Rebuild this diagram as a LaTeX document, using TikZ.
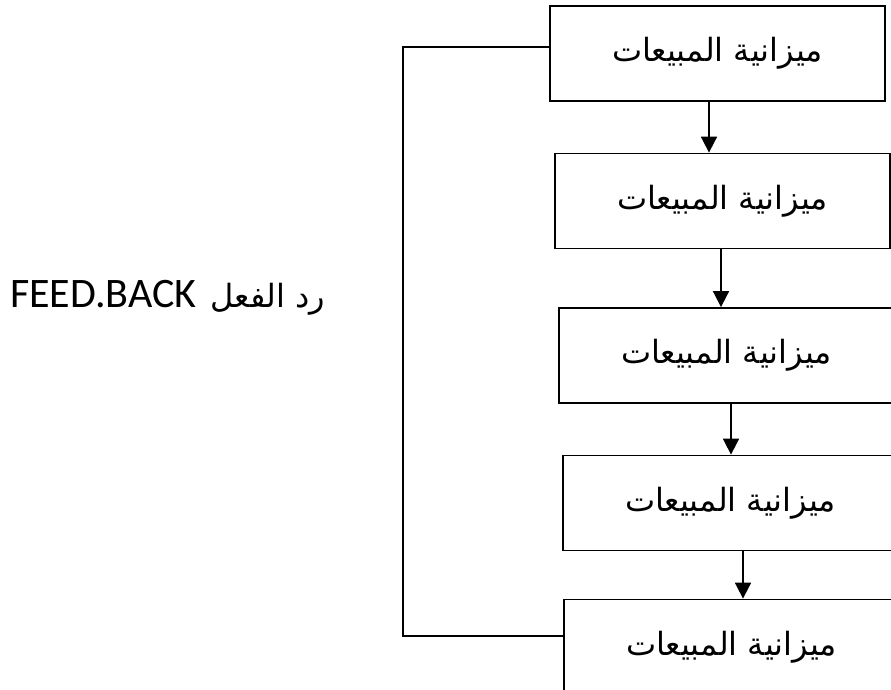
\documentclass[tikz,border=0pt]{standalone}
\usepackage{fontspec}
\usetikzlibrary{arrows.meta}
\TeXXeTstate=1
\newfontfamily\arabicfont[Script=Arabic]{DejaVu Sans}
\newfontfamily\latinfont{Carlito}
\newcommand{\artext}[1]{{\arabicfont\fontsize{32}{38}\selectfont\beginR #1\endR}}
\begin{document}
\begin{tikzpicture}[x=1pt,y=1pt,
  stagebox/.style={draw, line width=1.8pt, minimum width=335pt, minimum height=95pt,
                   inner sep=0pt, anchor=center},
  flow/.style={line width=1.8pt, -{Triangle[length=16pt,width=16pt]}},
  loopline/.style={line width=1.8pt}]
  \clip (0,0) rectangle (891,689);
  \fill[white] (0,0) rectangle (891,689);

  % budget stages
  \node[stagebox] (b1) at (717.5,635.5) {\artext{ميزانية المبيعات}};
  \node[stagebox] (b2) at (722.5,488)   {\artext{ميزانية المبيعات}};
  \node[stagebox] (b3) at (726.5,333.5) {\artext{ميزانية المبيعات}};
  \node[stagebox] (b4) at (730.5,186)   {\artext{ميزانية المبيعات}};
  \node[stagebox] (b5) at (731.5,42)    {\artext{ميزانية المبيعات}};

  % downward flow between stages
  \draw[flow] ([xshift=-8.5pt]b1.south) -- ([xshift=-13.5pt]b2.north);
  \draw[flow] ([xshift=-1.5pt]b2.south) -- ([xshift=-5.5pt]b3.north);
  \draw[flow] ([xshift=4.5pt]b3.south)  -- ([xshift=0.5pt]b4.north);
  \draw[flow] ([xshift=12.5pt]b4.south) -- ([xshift=11.5pt]b5.north);

  % feedback loop on the left
  \coordinate (fb) at (403,344);
  \coordinate (in5) at ([yshift=11pt]b5.west);
  \draw[loopline] ([yshift=6.5pt]b1.west) -| (fb |- in5) -- (in5);

  % feedback label
  \node[anchor=west, inner sep=0pt] (fbl) at (10,391)
    {{\latinfont\fontsize{42}{48}\selectfont FEED.BACK}\hspace{14pt}\artext{رد الفعل}};
\end{tikzpicture}
\end{document}
